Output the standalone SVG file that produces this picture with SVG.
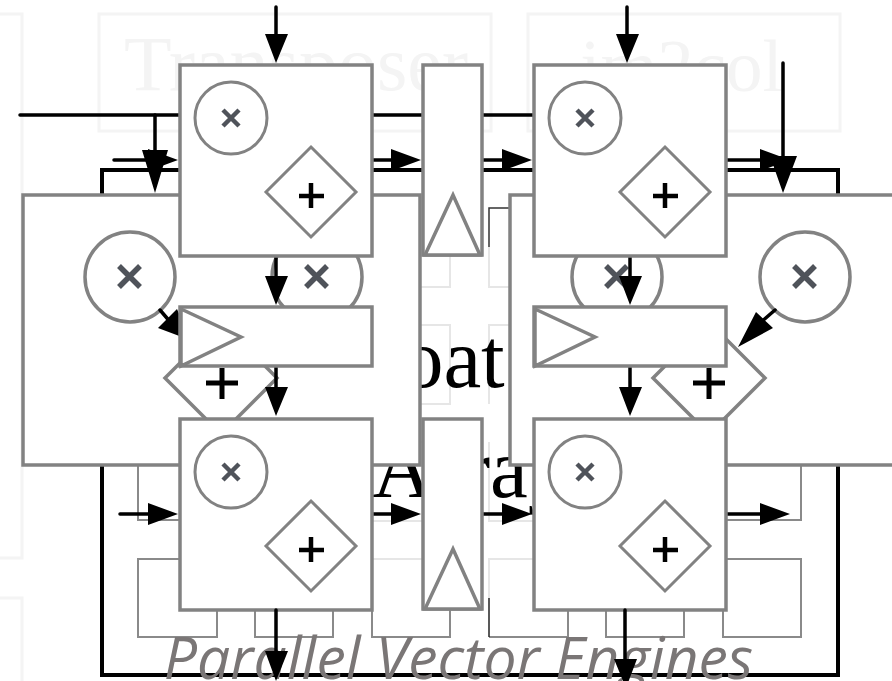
<svg xmlns="http://www.w3.org/2000/svg" width="892" height="681" viewBox="0 0 892 681">
<style>
.faint{fill:none;stroke:#f4f4f4;stroke-width:3}
.ft{fill:#f4f4f4;font-family:"Liberation Serif",serif;font-size:78px;text-anchor:middle}
.big{fill:#000;font-family:"Liberation Serif",serif;font-size:85px}
.g{fill:#fff;stroke:#828282;stroke-width:3.5}
.t{fill:#fff;stroke:#828282;stroke-width:3.5}
.cell{fill:none;stroke:#8a8a8a;stroke-width:2}
.cellf{fill:none;stroke:#e6e6e6;stroke-width:2}
.l{fill:none;stroke:#000;stroke-width:3.5;stroke-linecap:round}
.h{fill:#000}
.x{stroke:#4f535a;stroke-linecap:butt;fill:none}
.p{stroke:#000;stroke-linecap:butt;fill:none}
</style>
<defs>
<g id="pe">
<rect class="g" x="0" y="0" width="192" height="191"/>
<circle cx="51" cy="53" r="36" fill="#fff" stroke="#828282" stroke-width="3"/>
<path class="x" stroke-width="4.5" d="M43 45L59 61M59 45L43 61"/>
<path d="M131 82L176 127L131 172L86 127Z" fill="#fff" stroke="#828282" stroke-width="3"/>
<path class="p" stroke-width="4.5" d="M131 118V143M119 131H144"/>
</g>
<g id="vr">
<rect class="g" x="0" y="0" width="59" height="190"/>
<path class="t" d="M30 130L2 190H57Z"/>
</g>
<g id="hr">
<rect class="g" x="0" y="0" width="192" height="59"/>
<path class="t" d="M1 2L61 30L1 59Z"/>
</g>
</defs>
<g id="background">
<rect class="faint" x="99" y="14" width="392" height="117"/>
<rect class="faint" x="528" y="14" width="312" height="117"/>
<path class="faint" d="M0 14H22V558H0M0 598H22V681"/>
<text class="ft" x="296" y="90">Transposer</text>
<text class="ft" style="font-size:73px" x="681.5" y="91">im2col</text>
</g>
<g id="array">
<rect x="102" y="170" width="736" height="505" fill="none" stroke="#000" stroke-width="4"/>
<path class="cellf" d="M489 247V287H568M372 325H450V404H372M489 404V325H568M372 287H450V208M489 442V521H568M372 442H450V521H372M372 559H423M489 598V559H534"/>
<path d="M489 247V208H520" fill="none" stroke="#333" stroke-width="1.5"/>
<path class="cell" d="M138 465V520H180M725 520H801V465M138 610V559H180M217 610V637H138V610M255 610V637H333V610M372 510V637H450V610M489 637H568V610M606 610V637H684V610M723 610V637H801V559H725"/>
<path d="M489 598V637" fill="none" stroke="#222" stroke-width="1.5"/>
<text class="big" x="330" y="387">Float</text>
<text class="big" x="372" y="497">Array</text>
</g>
<g id="unit-left">
<rect class="g" x="23" y="195" width="397" height="270"/>
<circle cx="130" cy="277" r="45" fill="#fff" stroke="#828282" stroke-width="3.5"/>
<path class="x" stroke-width="5.5" d="M119 266L140 287M140 266L119 287"/>
<circle cx="317" cy="277" r="45" fill="#fff" stroke="#828282" stroke-width="3.5"/>
<path class="x" stroke-width="5.5" d="M306 266L327 287M327 266L306 287"/>
<path d="M221 322L277 378L221 434L165 378Z" fill="#fff" stroke="#828282" stroke-width="3.5"/>
<path class="p" stroke-width="5" d="M222 368V399M206 383H238"/>
</g>
<g id="unit-right">
<rect class="g" x="510" y="195" width="400" height="270"/>
<circle cx="617" cy="277" r="45" fill="#fff" stroke="#828282" stroke-width="3.5"/>
<path class="x" stroke-width="5.5" d="M606 266L627 287M627 266L606 287"/>
<circle cx="805" cy="277" r="45" fill="#fff" stroke="#828282" stroke-width="3.5"/>
<path class="x" stroke-width="5.5" d="M794 266L815 287M815 266L794 287"/>
<path d="M709 322L765 378L709 434L653 378Z" fill="#fff" stroke="#828282" stroke-width="3.5"/>
<path class="p" stroke-width="5" d="M709 368V399M693 383H725"/>
</g>
<g id="connectors">
<path class="l" d="M276 7V40M627 7V40"/>
<path class="h" d="M265 34H288L276 63ZM616 34H639L627 63Z"/>
<path class="l" d="M20 115H180M372 115H423M482 115H534"/>
<path class="l" stroke-width="4" d="M155 115V155M783 63V160"/>
<path class="h" d="M142 150H168L155 193ZM770 156H797L783 193Z"/>
<path class="l" d="M114 160H150M372 160H395M482 160H505M725 160H765"/>
<path class="h" d="M148 149L178 160L148 171ZM391 149L421 160L391 171ZM502 149L532 160L502 171ZM760 149L790 160L760 171Z"/>
<path class="l" d="M276 254V280M630 254V280M276 366V392M630 366V392"/>
<path class="h" d="M265 276H288L276 305ZM619 276H642L630 305ZM265 387H288L276 416ZM619 387H642L630 416Z"/>
<path class="l" stroke-width="4" d="M160 310L172 324M775 310L760 323"/>
<path class="h" d="M158 328L177 309L190 340ZM756 312L773 328L738 347Z"/>
<path class="l" d="M120 514H152M372 514H395M482 514H505M725 514H765"/>
<path class="h" d="M148 503L178 514L148 525ZM391 503L421 514L391 525ZM502 503L532 514L502 525ZM760 503L790 514L760 525Z"/>
</g>
<g id="reg-top-left"><use href="#vr" x="423" y="65"/></g>
<g id="reg-bottom-left"><use href="#vr" x="423" y="419"/></g>
<g id="pe-1"><use href="#pe" x="180" y="65"/></g>
<g id="pe-2"><use href="#pe" x="534" y="65"/></g>
<g id="pe-3"><use href="#pe" x="180" y="419"/></g>
<g id="pe-4"><use href="#pe" x="534" y="419"/></g>
<g id="reg-h-left"><use href="#hr" x="180" y="307"/></g>
<g id="reg-h-right"><use href="#hr" x="534" y="307"/></g>
<text id="caption" x="458.5" y="679" fill="#7a7676" font-family="'Open Sans',sans-serif" font-style="italic" font-size="58.8" text-anchor="middle">Parallel Vector Engines</text>
<g id="connectors-bottom">
<path class="l" d="M276 610V655M625 610V662"/>
<path class="h" d="M265 651H288L276 681ZM614 659H637L626 688Z"/>
</g>
</svg>
